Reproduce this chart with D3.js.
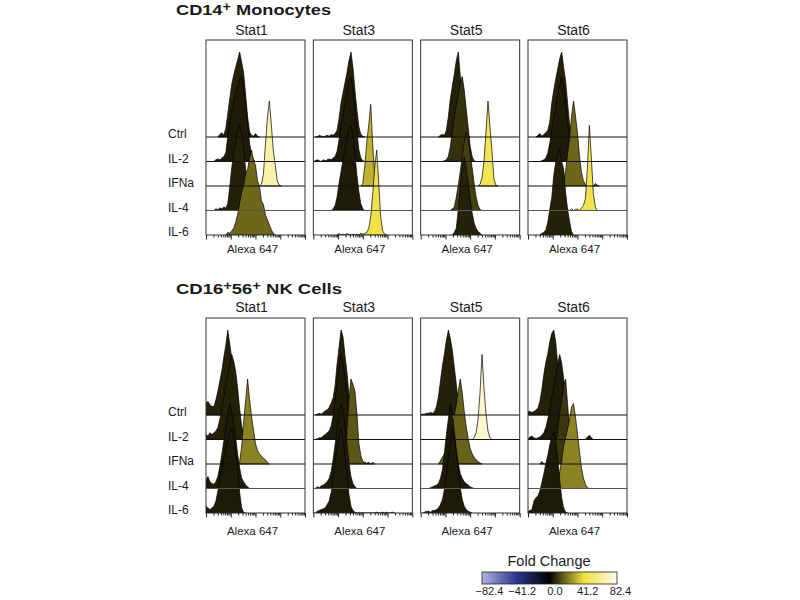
<!DOCTYPE html>
<html>
<head>
<meta charset="utf-8">
<script src="https://cdn.jsdelivr.net/npm/d3@7"></script>
<style>
  body { margin: 0; background: #fff; }
  text { font-family: "Liberation Sans", Arial, sans-serif; fill: #1a1a1a; }
</style>
</head>
<body>
<svg id="viz" width="800" height="600"></svg>
<script>
// rows / panels
var rows = ['Ctrl', 'IL-2', 'IFNa', 'IL-4', 'IL-6'];
var stats = ['Stat1', 'Stat3', 'Stat5', 'Stat6'];

// fold change colour key
var foldTicks = [-82.4, -41.2, 0, 41.2, 82.4];
var foldColors = ['#b0b2e0', '#2b3990', '#000000', '#eee03a', '#fffbe8'];

// histograms: [start bin, heights (% of mode)], one per row, bins are 0.08 decade wide from 10^1
var monoStat1 = [
  [7, [3,5,2,10,27,45,62,73,82,91,100,88,76,50,24,6,2,1,4,1]],
  [5, [2,3,2,4,6,10,30,48,60,70,80,88,97,100,85,70,45,22,8,2]],
  [28, [2,14,48,80,100,72,42,24,6,1]],
  [5, [2,1,3,2,4,3,8,28,50,68,80,92,100,90,72,50,25,8,2]],
  [11, [3,2,5,8,15,24,38,50,58,72,77,90,100,88,82,64,57,40,36,24,18,12,6,2]]
];
var monoStat3 = [
  [2, [0,2,1,0,1,2,1,3,2,4,8,22,40,52,64,76,90,100,82,56,32,12,3,1]],
  [1, [1,2,1,0,2,1,2,3,2,4,6,12,26,42,56,70,84,96,100,86,60,36,14,4,1]],
  [25, [3,24,52,72,96,48,12,2]],
  [10, [2,6,16,32,46,60,72,85,96,100,88,66,42,22,8,2]],
  [13, [2,0,1,0,2,0,0,1,0,1,0,2,1,2,3,8,22,48,80,100,62,22,5,1]]
];
var monoStat5 = [
  [10, [2,3,2,8,24,45,60,74,90,100,72,48,30,8,2]],
  [12, [1,2,6,18,36,52,66,80,92,100,84,62,40,18,6,1]],
  [30, [2,10,30,64,100,70,42,8,1]],
  [16, [2,4,16,30,46,64,80,92,84,66,50,32,16,6,1]],
  [17, [3,8,30,58,80,92,78,62,42,26,14,8,4,2]]
];
var monoStat6 = [
  [5, [2,4,1,3,5,8,18,40,55,68,80,92,100,82,66,40,15,3]],
  [7, [1,2,4,10,22,38,52,64,78,90,100,88,70,48,24,8,2]],
  [18, [3,18,38,56,82,100,82,62,36,16,6,2,0,0,0,0,3,1]],
  [20, [1,0,2,0,1,2,0,3,6,14,50,100,62,20,4]],
  [7, [2,3,6,15,30,44,70,86,94,100,86,78,50,30,16,4]]
];
var nkStat1 = [
  [0, [14,16,12,10,10,18,28,40,52,68,82,100,84,66,44,20,5,1]],
  [0, [6,4,8,6,8,10,14,24,36,50,64,76,88,100,92,80,60,36,16,6,2]],
  [17, [3,20,50,74,100,76,56,40,24,16,12,9,7,5,2]],
  [0, [10,14,8,6,5,8,14,26,40,56,72,88,100,90,76,60,40,24,12,8,4,2]],
  [0, [8,6,4,6,8,14,26,40,52,64,76,86,94,100,88,72,54,24,6,1]]
];
var nkStat3 = [
  [2, [1,2,1,3,5,6,9,14,20,35,60,80,100,92,70,50,24,10,4,1]],
  [2, [1,2,2,4,6,8,10,16,28,46,66,84,100,90,72,52,30,12,4,1]],
  [16, [6,40,75,100,94,86,60,24,10,3,2,1,2,0,2]],
  [2, [2,1,3,4,6,8,12,20,34,52,70,88,100,92,74,52,30,14,6,2]],
  [2, [2,3,4,5,6,10,14,24,40,58,76,92,100,86,66,44,22,8,3,1,0,0,0,0,0,0,0,0,0,0,1,0,0,1,0,1,0,0,1]]
];
var nkStat5 = [
  [1, [1,1,2,2,3,2,4,10,22,40,58,72,88,100,90,76,56,36,14,4,1]],
  [27, [2,8,24,56,100,60,30,10,2]],
  [10, [4,8,12,18,26,38,48,58,70,86,100,84,62,44,30,18,12,8,5,3,1]],
  [5, [1,2,3,4,6,12,22,42,64,82,100,86,68,46,30,18,12,8,6,4,2,1]],
  [2, [1,2,2,1,3,3,4,6,10,16,28,46,66,84,100,88,70,50,30,16,8,4,2,1]]
];
var nkStat6 = [
  [0, [4,4,3,4,6,8,16,30,48,62,72,86,96,100,86,60,34,12,2]],
  [1, [3,4,2,1,2,3,5,8,14,24,36,50,62,76,88,100,90,72,50,30,14,6,2,0,0,0,0,0,0,3,5,2]],
  [7, [3,0,0,0,0,3,8,24,40,60,76,92,100,70,40,16,4]],
  [15, [3,20,32,50,60,70,82,96,100,84,64,44,24,12,5,1]],
  [0, [2,3,4,14,18,20,26,36,46,58,68,80,90,95,84,64,40,18,6,1]]
];

// fold change per panel (Stat1..Stat6), per row
var monoFold = [[6,5,68,6,19], [6,5,33,5,44], [6,9,48,12,6], [6,5,19,46,6]];
var nkFold = [[6,6,24,5,5], [6,5,16,5,5], [6,76,18,5,5], [6,5,10,24,5]];

var svg = d3.select('#viz');
svg.append('rect').attr('width', 800).attr('height', 600).attr('fill', '#fff');

var color = d3.scaleLinear().domain(foldTicks).range(foldColors);
var xPanel = d3.scaleBand().domain(stats).range([206, 627]).paddingInner(0.0776);
var pw = xPanel.bandwidth(), ph = 195;
var x = d3.scaleLog().domain([10, 1e5]).range([0, pw]);
var rowY = d3.scaleLinear().domain([0, 4]).range([97, ph]);
var hY = d3.scaleLinear().domain([0, 100]).range([0, 85]);

var majors = [10, 100, 1e3, 1e4, 1e5];
var minors = [];
majors.slice(0, 4).forEach(function(m) { for (var k = 2; k < 10; k++) minors.push(m * k); });

var sections = [
  { title: [['CD14', 0], ['+', 1], [' Monocytes', 0]], titleW: 155, top: 40, titleY: 14.5, statY: 35, axY: 253,
    hist: [monoStat1, monoStat3, monoStat5, monoStat6], fold: monoFold, id: 'm' },
  { title: [['CD16', 0], ['+', 1], ['56', 0], ['+', 1], [' NK Cells', 0]], titleW: 166, top: 318, titleY: 294, statY: 312, axY: 535,
    hist: [nkStat1, nkStat3, nkStat5, nkStat6], fold: nkFold, id: 'n' }
];

function points(hist) {
  var s = hist[0], hs = hist[1];
  var out = [{ b: s - 1, v: 0 }];
  hs.forEach(function(v, i) { out.push({ b: s + i, v: v }); });
  out.push({ b: s + hs.length, v: 0 });
  return out;
}
function binX(b) { return x(Math.pow(10, 1 + b * 0.08)); }

sections.forEach(function(sec) {
  var t = svg.append('text').attr('x', 176).attr('y', sec.titleY)
    .attr('textLength', sec.titleW).attr('lengthAdjust', 'spacingAndGlyphs')
    .style('font-size', '15px').style('font-weight', 'bold');
  sec.title.forEach(function(p, i) {
    var prevSup = i > 0 && sec.title[i - 1][1];
    t.append('tspan').text(p[0])
      .attr('dy', p[1] ? -4 : (prevSup ? 4 : null))
      .style('font-size', p[1] ? '12px' : null);
  });

  rows.forEach(function(r, i) {
    svg.append('text').attr('x', 168).attr('y', sec.top + rowY(i) + 1)
      .style('font-size', '12px').text(r);
  });

  stats.forEach(function(st, j) {
    var g = svg.append('g').attr('transform', 'translate(' + xPanel(st) + ',' + sec.top + ')');
    var cid = 'clip-' + sec.id + j;
    g.append('clipPath').attr('id', cid).append('rect').attr('width', pw).attr('height', ph);

    svg.append('text').attr('x', xPanel(st) + pw / 2 - 4).attr('y', sec.statY)
      .attr('text-anchor', 'middle').style('font-size', '14px').text(st);
    svg.append('text').attr('x', xPanel(st) + pw / 2 - 3).attr('y', sec.axY)
      .attr('text-anchor', 'middle').style('font-size', '11.5px').text('Alexa 647');

    var inner = g.append('g').attr('clip-path', 'url(#' + cid + ')');
    sec.hist[j].forEach(function(hist, i) {
      var base = rowY(i);
      var area = d3.area()
        .x(function(d) { return binX(d.b); })
        .y0(base)
        .y1(function(d) { return base - hY(d.v); });
      inner.append('path').datum(points(hist))
        .attr('d', area)
        .attr('fill', color(sec.fold[j][i]))
        .attr('stroke', '#000').attr('stroke-width', 0.7).attr('stroke-linejoin', 'round');
    });
    rows.slice(0, 4).forEach(function(r, i) {
      inner.append('line').attr('x1', 0).attr('x2', pw)
        .attr('y1', rowY(i)).attr('y2', rowY(i))
        .attr('stroke', i === 3 ? '#555' : '#111').attr('stroke-width', 1);
    });
    g.append('rect').attr('width', pw).attr('height', ph)
      .attr('fill', 'none').attr('stroke', '#333').attr('stroke-width', 1);

    var ax1 = g.append('g').attr('transform', 'translate(0,' + ph + ')')
      .call(d3.axisBottom(x).tickValues(minors).tickSize(2.5).tickFormat(''));
    var ax2 = g.append('g').attr('transform', 'translate(0,' + ph + ')')
      .call(d3.axisBottom(x).tickValues(majors).tickSize(4.5).tickFormat(''));
    [ax1, ax2].forEach(function(a) {
      a.select('.domain').remove();
      a.selectAll('line').attr('stroke', '#222');
    });
  });
});

// legend
var grad = svg.append('defs').append('linearGradient').attr('id', 'fc');
foldTicks.forEach(function(v, i) {
  grad.append('stop').attr('offset', (i / (foldTicks.length - 1) * 100) + '%').attr('stop-color', color(v));
});
svg.append('text').attr('x', 549).attr('y', 566).attr('text-anchor', 'middle')
  .style('font-size', '14.5px').text('Fold Change');
svg.append('rect').attr('x', 482).attr('y', 572).attr('width', 135).attr('height', 12)
  .attr('fill', 'url(#fc)').attr('stroke', '#222').attr('stroke-width', 0.8);
var lx = d3.scaleLinear().domain([-82.4, 82.4]).range([489, 620]);
var lax = svg.append('g').attr('transform', 'translate(0,584)')
  .call(d3.axisBottom(lx).tickValues(foldTicks).tickSize(0).tickFormat(d3.format('.1f')));
lax.select('.domain').remove();
lax.selectAll('text').style('font-size', '11px')
  .style('font-family', '"Liberation Sans", Arial, sans-serif').attr('fill', '#1a1a1a');
</script>
</body>
</html>
